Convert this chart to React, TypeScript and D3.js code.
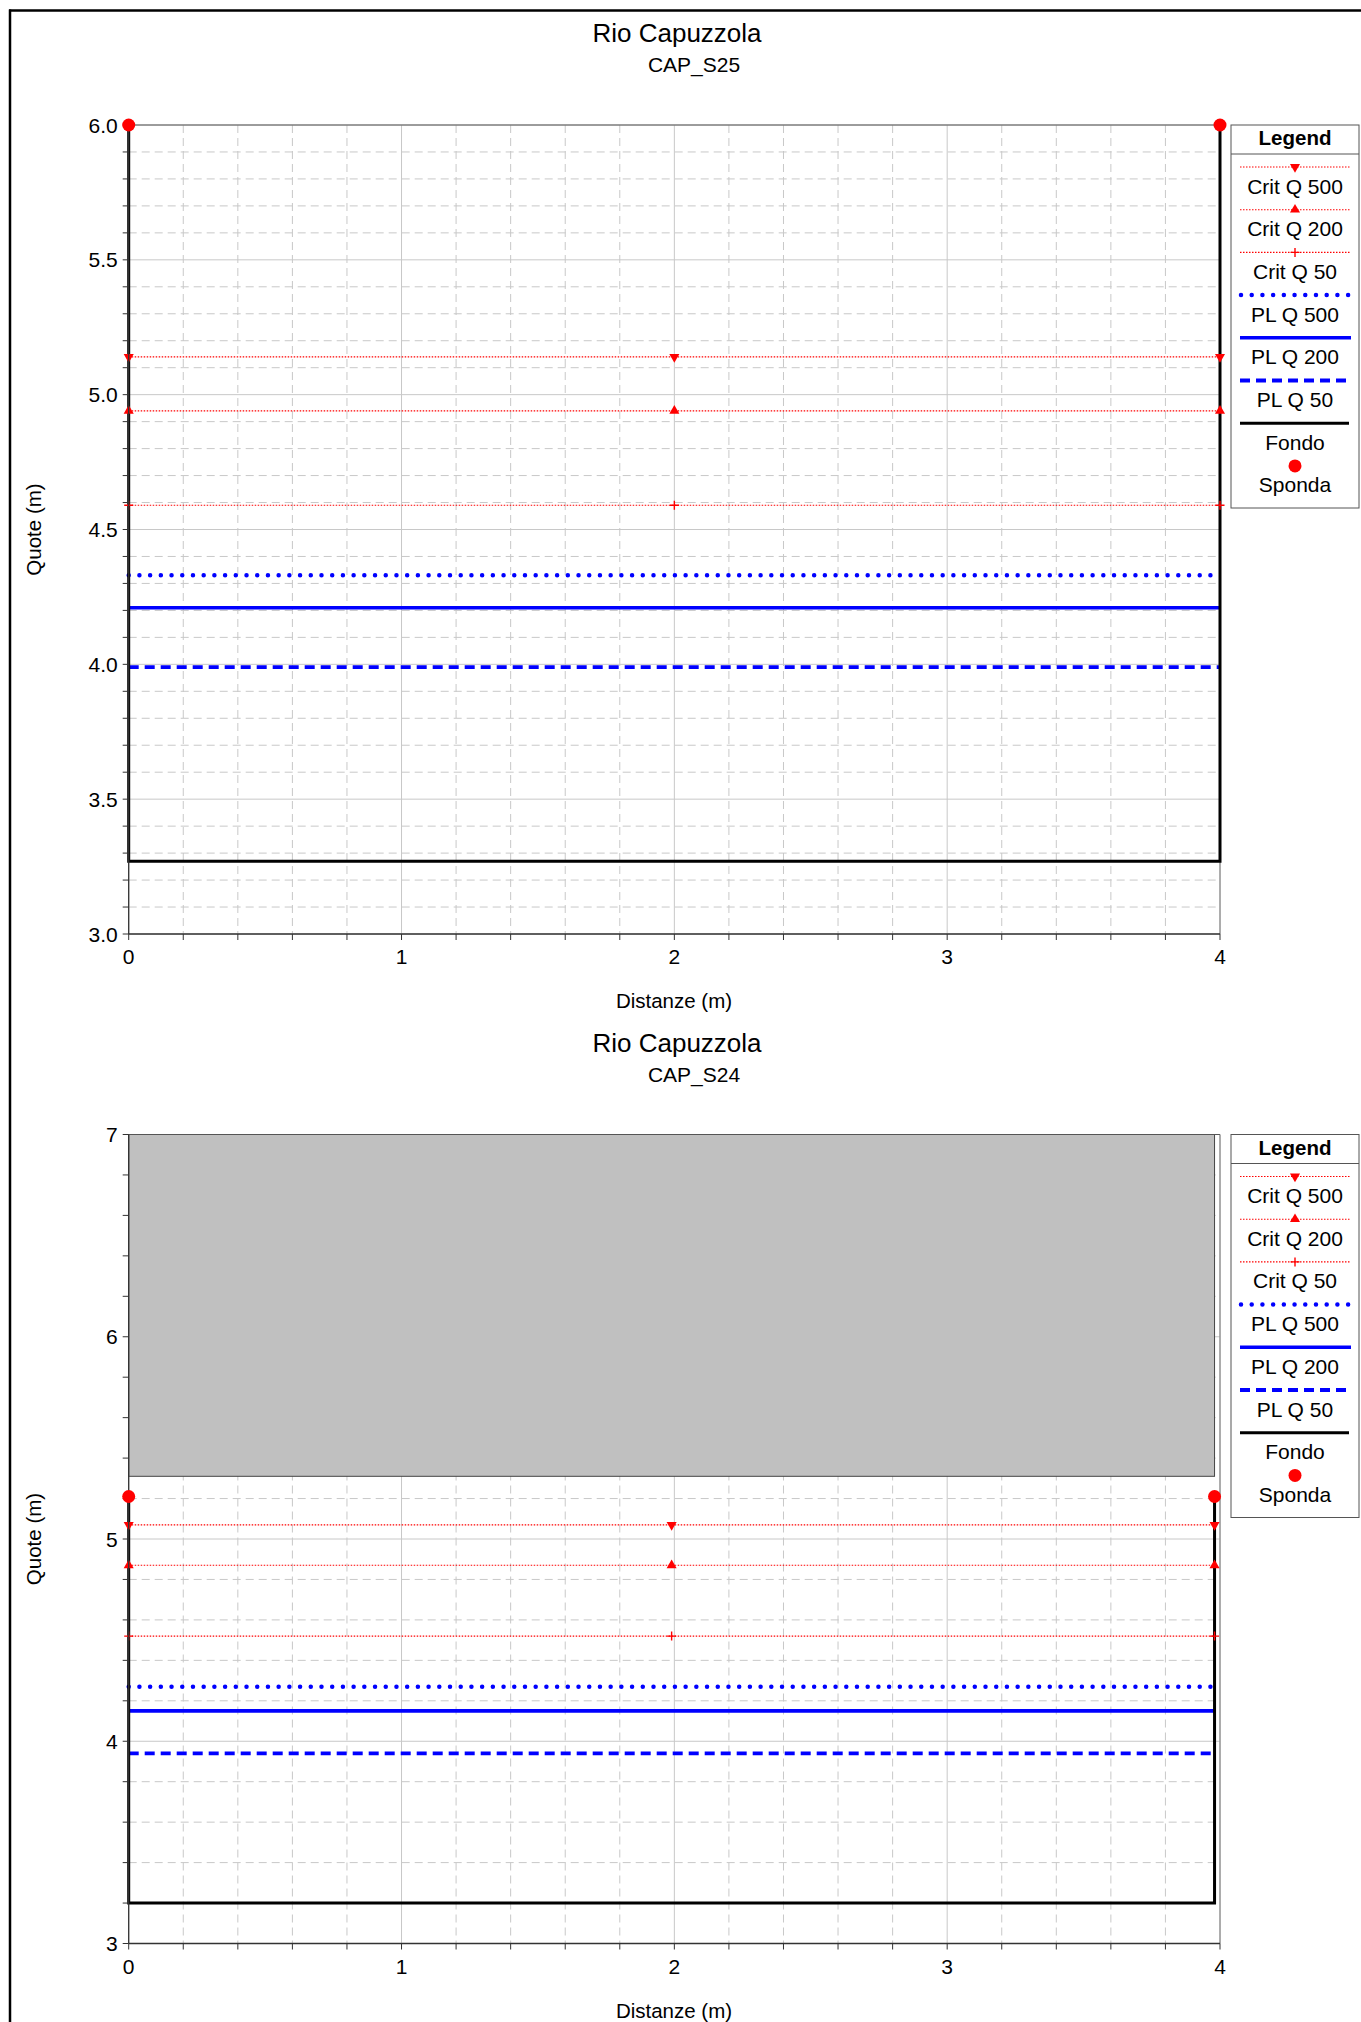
import React from "react";
import * as d3 from "d3";

const FONT = "'Liberation Sans', Arial, Helvetica, sans-serif";

// ---- Data ----
const legendNames = ["Crit Q 500", "Crit Q 200", "Crit Q 50", "PL Q 500", "PL Q 200", "PL Q 50", "Fondo", "Sponda"];
const xTickLabels = [0, 1, 2, 3, 4];

// Section CAP_S25
const s25Title = "Rio Capuzzola";
const s25Sub = "CAP_S25";
const s25YTicks = [3.0, 3.5, 4.0, 4.5, 5.0, 5.5, 6.0];
const s25Fondo: [number, number][] = [[0, 6.0], [0, 3.27], [4, 3.27], [4, 6.0]];
const s25Sponda: [number, number][] = [[0, 6.0], [4, 6.0]];
const s25Crit500: [number, number][] = [[0, 5.14], [2, 5.14], [4, 5.14]];
const s25Crit200: [number, number][] = [[0, 4.94], [2, 4.94], [4, 4.94]];
const s25Crit50: [number, number][] = [[0, 4.59], [2, 4.59], [4, 4.59]];
const s25PL500: [number, number][] = [[0, 4.33], [4, 4.33]];
const s25PL200: [number, number][] = [[0, 4.21], [4, 4.21]];
const s25PL50: [number, number][] = [[0, 3.99], [4, 3.99]];

// Section CAP_S24
const s24Title = "Rio Capuzzola";
const s24Sub = "CAP_S24";
const s24YTicks = [3, 4, 5, 6, 7];
const s24Fondo: [number, number][] = [[0, 5.21], [0, 3.2], [3.98, 3.2], [3.98, 5.21]];
const s24Sponda: [number, number][] = [[0, 5.21], [3.98, 5.21]];
const s24Crit500: [number, number][] = [[0, 5.07], [1.99, 5.07], [3.98, 5.07]];
const s24Crit200: [number, number][] = [[0, 4.87], [1.99, 4.87], [3.98, 4.87]];
const s24Crit50: [number, number][] = [[0, 4.52], [1.99, 4.52], [3.98, 4.52]];
const s24PL500: [number, number][] = [[0, 4.27], [3.98, 4.27]];
const s24PL200: [number, number][] = [[0, 4.15], [3.98, 4.15]];
const s24PL50: [number, number][] = [[0, 3.94], [3.98, 3.94]];
const s24Deck: [number, number][] = [[0, 5.31], [3.98, 7.0]];

const RED = "#ff0000";
const BLUE = "#0000ff";
const GRID = "#c8c8c8";

const triDown = d3.symbol().type(d3.symbolTriangle).size(44)();
const triUp = d3.symbol().type(d3.symbolTriangle).size(44)();
const plusPath = "M-4.5,0H4.5M0,-4.5V4.5";

function Marker({ kind, cx, cy }: { kind: string; cx: number; cy: number }) {
  if (kind === "down")
    return <path d={triDown as string} transform={`translate(${cx},${cy}) rotate(180)`} fill={RED} />;
  if (kind === "up") return <path d={triUp as string} transform={`translate(${cx},${cy})`} fill={RED} />;
  return <path d={plusPath} transform={`translate(${cx},${cy})`} stroke={RED} strokeWidth={1.4} fill="none" />;
}

const critStyle = { stroke: RED, strokeWidth: 1.1, strokeDasharray: "1.5,1.5", fill: "none" };
const pl500Style = { stroke: BLUE, strokeWidth: 4.5, strokeDasharray: "0.01,10.7", strokeLinecap: "round" as const, fill: "none" };
const pl200Style = { stroke: BLUE, strokeWidth: 3.6, fill: "none" };
const pl50Style = { stroke: BLUE, strokeWidth: 3.8, strokeDasharray: "10,6", fill: "none" };

function Legend({ top }: { top: number }) {
  const bx = 1231, bw = 128, bh = 383;
  const cx = 1295;
  const lx1 = 1240, lx2 = 1350;
  return (
    <g fontFamily={FONT}>
      <rect x={bx} y={top} width={bw} height={bh} fill="white" stroke="#555" strokeWidth={1} />
      <line x1={bx} x2={bx + bw} y1={top + 29} y2={top + 29} stroke="#555" strokeWidth={1} />
      <text x={cx} y={top + 20} textAnchor="middle" fontSize={20.5} fontWeight="bold">Legend</text>
      {legendNames.map((name, i) => {
        const ly = top + 42 + i * 42.7;
        const ty = top + 68.5 + i * 42.7;
        let sample: React.ReactNode = null;
        if (i < 3) {
          sample = (
            <g>
              <line x1={lx1} x2={lx2} y1={ly} y2={ly} {...critStyle} />
              <Marker kind={i === 0 ? "down" : i === 1 ? "up" : "plus"} cx={cx} cy={ly} />
            </g>
          );
        } else if (i === 3) sample = <line x1={lx1 + 1} x2={lx2} y1={ly} y2={ly} {...pl500Style} />;
        else if (i === 4) sample = <line x1={lx1} x2={lx2 + 1} y1={ly} y2={ly} {...pl200Style} />;
        else if (i === 5) sample = <line x1={lx1} x2={lx2} y1={ly} y2={ly} {...pl50Style} />;
        else if (i === 6) sample = <line x1={lx1} x2={lx2 - 1} y1={ly} y2={ly} stroke="black" strokeWidth={3} />;
        else sample = <circle cx={cx} cy={ly} r={6.5} fill={RED} />;
        return (
          <g key={name}>
            {sample}
            <text x={cx} y={ty} textAnchor="middle" fontSize={21}>{name}</text>
          </g>
        );
      })}
    </g>
  );
}

type PanelProps = {
  top: number;
  title: string;
  sub: string;
  yTicks: number[];
  yMinorStep: number;
  yFmt: (v: number) => string;
  fondo: [number, number][];
  sponda: [number, number][];
  crit500: [number, number][];
  crit200: [number, number][];
  crit50: [number, number][];
  pl500: [number, number][];
  pl200: [number, number][];
  pl50: [number, number][];
  deck?: [number, number][];
};

function Panel(p: PanelProps) {
  const T = p.top;
  const H = 809;
  const yMin = p.yTicks[0];
  const yMax = p.yTicks[p.yTicks.length - 1];
  const x = d3.scaleLinear().domain([0, 4]).range([128.7, 1220]);
  const y = d3.scaleLinear().domain([yMin, yMax]).range([T + H, T]);
  const line = d3.line<[number, number]>().x((d) => x(d[0])).y((d) => y(d[1]));
  const xMinor = d3.range(0, 21).map((i) => i * 0.2);
  const nMinorY = Math.round((yMax - yMin) / p.yMinorStep);
  const yMinor = d3.range(0, nMinorY + 1).map((i) => yMin + i * p.yMinorStep);
  const isMajorY = (v: number) => p.yTicks.some((t) => Math.abs(t - v) < 1e-6);
  const isMajorX = (v: number) => Math.abs(v - Math.round(v)) < 1e-6;
  const x0 = x(0), x1 = x(4), yb = y(yMin), yt = y(yMax);

  return (
    <g>
      {/* grid */}
      {xMinor.filter((v) => !isMajorX(v)).map((v) => (
        <line key={"gx" + v} x1={x(v)} x2={x(v)} y1={yt} y2={yb} stroke={GRID} strokeWidth={1} strokeDasharray="8,5" />
      ))}
      {yMinor.filter((v) => !isMajorY(v)).map((v) => (
        <line key={"gy" + v} x1={x0} x2={x1} y1={y(v)} y2={y(v)} stroke={GRID} strokeWidth={1} strokeDasharray="8,5" />
      ))}
      {xTickLabels.map((v) => (
        <line key={"GX" + v} x1={x(v)} x2={x(v)} y1={yt} y2={yb} stroke={GRID} strokeWidth={1} />
      ))}
      {p.yTicks.map((v) => (
        <line key={"GY" + v} x1={x0} x2={x1} y1={y(v)} y2={y(v)} stroke={GRID} strokeWidth={1} />
      ))}

      {/* deck / obstruction */}
      {p.deck && (
        <rect
          x={x(p.deck[0][0])}
          y={y(p.deck[1][1])}
          width={x(p.deck[1][0]) - x(p.deck[0][0])}
          height={y(p.deck[0][1]) - y(p.deck[1][1])}
          fill="#c0c0c0"
          stroke="#444"
          strokeWidth={1}
        />
      )}

      {/* plot frame top/right */}
      <line x1={x0} x2={x1} y1={yt} y2={yt} stroke="#555" strokeWidth={1.2} />
      <line x1={x1} x2={x1} y1={yt} y2={yb} stroke="#777" strokeWidth={1} />

      {/* critical depths */}
      <path d={line(p.crit500) as string} {...critStyle} />
      <path d={line(p.crit200) as string} {...critStyle} />
      <path d={line(p.crit50) as string} {...critStyle} />

      {/* water levels */}
      <path d={line(p.pl500) as string} {...pl500Style} />
      <path d={line(p.pl200) as string} {...pl200Style} />
      <path d={line(p.pl50) as string} {...pl50Style} />

      {/* bed */}
      <path d={line(p.fondo) as string} fill="none" stroke="black" strokeWidth={3} strokeLinejoin="miter" />

      {/* markers */}
      {p.crit500.map((d, i) => <Marker key={"m5" + i} kind="down" cx={x(d[0])} cy={y(d[1])} />)}
      {p.crit200.map((d, i) => <Marker key={"m2" + i} kind="up" cx={x(d[0])} cy={y(d[1])} />)}
      {p.crit50.map((d, i) => <Marker key={"m1" + i} kind="plus" cx={x(d[0])} cy={y(d[1])} />)}

      {/* axes */}
      <line x1={x0} x2={x1} y1={yb} y2={yb} stroke="#333" strokeWidth={1.3} />
      <line x1={x0} x2={x0} y1={yt} y2={yb} stroke="#333" strokeWidth={1.3} />
      {xMinor.map((v) => (
        <line key={"tx" + v} x1={x(v)} x2={x(v)} y1={yb} y2={yb + 6} stroke="#333" strokeWidth={1} />
      ))}
      {yMinor.map((v) => (
        <line key={"ty" + v} x1={x0 - 6} x2={x0} y1={y(v)} y2={y(v)} stroke="#333" strokeWidth={1} />
      ))}

      {/* sponda */}
      {p.sponda.map((d, i) => <circle key={"sp" + i} cx={x(d[0])} cy={y(d[1])} r={6.5} fill={RED} />)}

      {/* labels */}
      <g fontFamily={FONT} fill="black">
        <text x={677} y={T - 83} textAnchor="middle" fontSize={26}>{p.title}</text>
        <text x={694} y={T - 53} textAnchor="middle" fontSize={21}>{p.sub}</text>
        {xTickLabels.map((v) => (
          <text key={"lx" + v} x={x(v)} y={T + 839} textAnchor="middle" fontSize={21}>{v}</text>
        ))}
        {p.yTicks.map((v) => (
          <text key={"ly" + v} x={x0 - 11} y={y(v)} textAnchor="end" dominantBaseline="central" fontSize={21}>{p.yFmt(v)}</text>
        ))}
        <text x={674} y={T + 883} textAnchor="middle" fontSize={20.5}>Distanze (m)</text>
        <text
          transform={`translate(33,${T + 404.5}) rotate(-90)`}
          textAnchor="middle"
          dominantBaseline="central"
          fontSize={20.5}
        >
          Quote (m)
        </text>
      </g>

      <Legend top={T} />
    </g>
  );
}

export default function App() {
  return (
    <svg
      width={1361}
      height={2022}
      style={{ position: "absolute", left: 0, top: 0, background: "white", display: "block" }}
    >
      <rect x={0} y={0} width={1361} height={2022} fill="white" />
      <line x1={10} x2={10} y1={9.5} y2={2022} stroke="black" strokeWidth={2.5} />
      <line x1={9} x2={1361} y1={10.5} y2={10.5} stroke="black" strokeWidth={2.5} />
      <Panel
        top={125}
        title={s25Title}
        sub={s25Sub}
        yTicks={s25YTicks}
        yMinorStep={0.1}
        yFmt={(v) => v.toFixed(1)}
        fondo={s25Fondo}
        sponda={s25Sponda}
        crit500={s25Crit500}
        crit200={s25Crit200}
        crit50={s25Crit50}
        pl500={s25PL500}
        pl200={s25PL200}
        pl50={s25PL50}
      />
      <Panel
        top={1134.5}
        title={s24Title}
        sub={s24Sub}
        yTicks={s24YTicks}
        yMinorStep={0.2}
        yFmt={(v) => String(v)}
        fondo={s24Fondo}
        sponda={s24Sponda}
        crit500={s24Crit500}
        crit200={s24Crit200}
        crit50={s24Crit50}
        pl500={s24PL500}
        pl200={s24PL200}
        pl50={s24PL50}
        deck={s24Deck}
      />
    </svg>
  );
}
